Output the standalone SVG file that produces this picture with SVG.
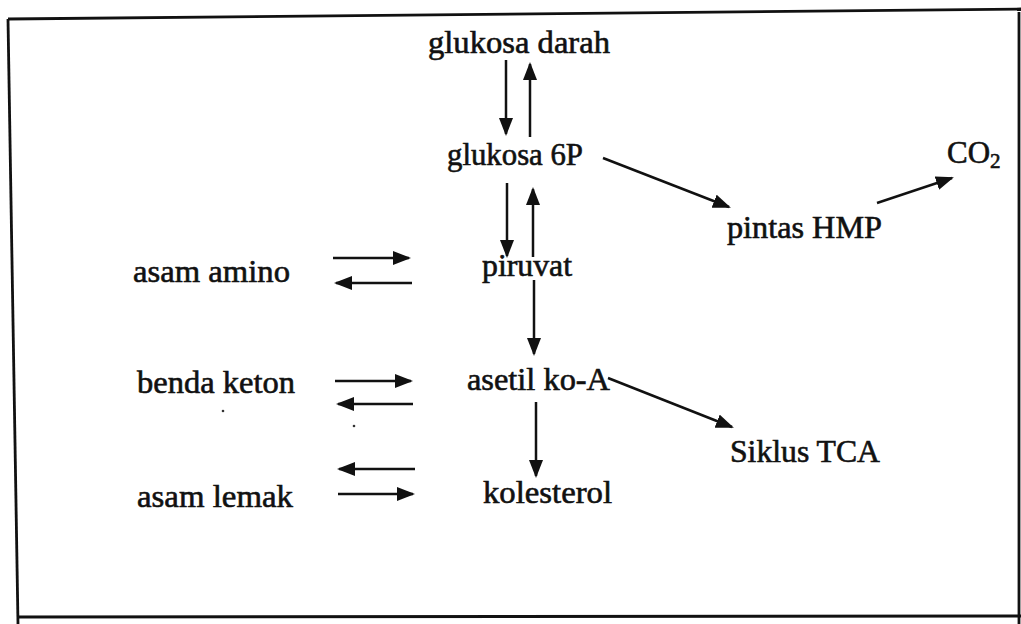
<svg xmlns="http://www.w3.org/2000/svg" width="1021" height="624" viewBox="0 0 1021 624">
<style>
.t{font-family:"Liberation Serif","Times New Roman",serif;font-size:31px;fill:#111;stroke:#111;stroke-width:0.6}
.c line{stroke:#111;stroke-width:2.5;marker-end:url(#ah)}
.f{stroke:#111;stroke-width:2.8;fill:none}
</style>
<defs>
<marker id="ah" markerUnits="userSpaceOnUse" markerWidth="20" markerHeight="16" refX="16" refY="7" orient="auto">
<path d="M0,0 L18,7 L0,14 z" fill="#111"/>
</marker>
</defs>
<rect width="1021" height="624" fill="#fff"/>
<g id="frame">
<path class="f" d="M8,19 L1021,9"/>
<path class="f" d="M8,19 L18,624"/>
<path class="f" d="M17,617 L1021,616"/>
<path class="f" d="M1019,12 L1019,624"/>
</g>
<g id="glukosa-darah"><text class="t" x="428" y="53" textLength="182" lengthAdjust="spacingAndGlyphs">glukosa darah</text></g>
<g id="glukosa-6p"><text class="t" x="447" y="165" textLength="136" lengthAdjust="spacingAndGlyphs">glukosa 6P</text></g>
<g id="co2"><text class="t" x="947" y="163">CO<tspan font-size="21" dy="5">2</tspan></text></g>
<g id="pintas-hmp"><text class="t" x="727" y="238" textLength="155" lengthAdjust="spacingAndGlyphs">pintas HMP</text></g>
<g id="piruvat"><text class="t" x="482" y="276" textLength="90" lengthAdjust="spacingAndGlyphs">piruvat</text></g>
<g id="asam-amino"><text class="t" x="133" y="282" textLength="157" lengthAdjust="spacingAndGlyphs">asam amino</text></g>
<g id="benda-keton"><text class="t" x="137" y="393" textLength="158" lengthAdjust="spacingAndGlyphs">benda keton</text></g>
<g id="asetil-koa"><text class="t" x="467" y="390" textLength="143" lengthAdjust="spacingAndGlyphs">asetil ko-A</text></g>
<g id="siklus-tca"><text class="t" x="730" y="462" textLength="150" lengthAdjust="spacingAndGlyphs">Siklus TCA</text></g>
<g id="asam-lemak"><text class="t" x="137" y="507" textLength="156" lengthAdjust="spacingAndGlyphs">asam lemak</text></g>
<g id="kolesterol"><text class="t" x="483" y="503" textLength="129" lengthAdjust="spacingAndGlyphs">kolesterol</text></g>
<g id="connectors" class="c">
<line x1="506" y1="60" x2="506" y2="134"/>
<line x1="530" y1="137" x2="530" y2="64"/>
<line x1="507" y1="183" x2="507" y2="256"/>
<line x1="533" y1="257" x2="533" y2="189"/>
<line x1="534" y1="280" x2="534" y2="354"/>
<line x1="536" y1="402" x2="536" y2="476"/>
<line x1="608" y1="378" x2="732" y2="427"/>
<line x1="603" y1="158" x2="729" y2="207"/>
<line x1="877" y1="203" x2="952" y2="178"/>
<line x1="333" y1="258" x2="409" y2="258"/>
<line x1="412" y1="283" x2="336" y2="283"/>
<line x1="335" y1="381" x2="411" y2="381"/>
<line x1="413" y1="404" x2="338" y2="404"/>
<line x1="415" y1="469" x2="339" y2="469"/>
<line x1="338" y1="494" x2="413" y2="494"/>
</g>
<g id="specks" fill="#333">
<circle cx="223" cy="411" r="1.3"/>
<circle cx="354" cy="426" r="1.3"/>
</g>
</svg>
